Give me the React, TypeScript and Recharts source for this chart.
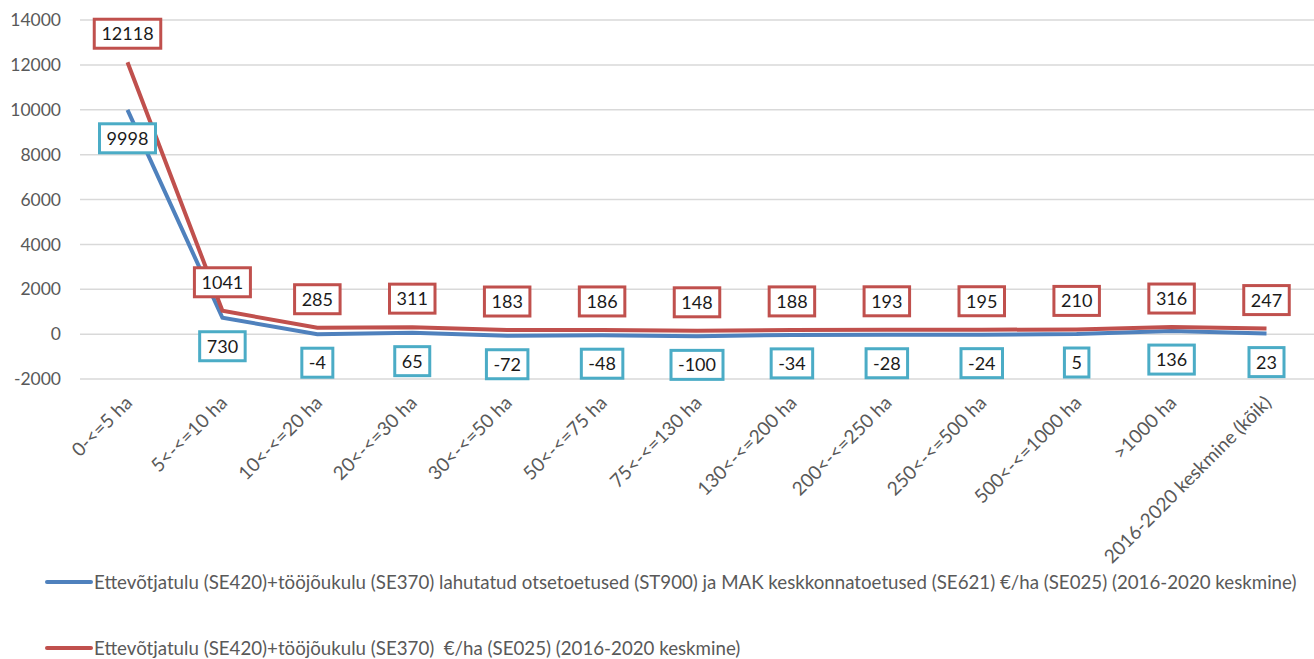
import { LineChart, Line, XAxis, YAxis, CartesianGrid, LabelList } from "recharts"

const categories = [
  "0-<=5 ha",
  "5<-<=10 ha",
  "10<-<=20 ha",
  "20<-<=30 ha",
  "30<-<=50 ha",
  "50<-<=75 ha",
  "75<-<=130 ha",
  "130<-<=200 ha",
  "200<-<=250 ha",
  "250<-<=500 ha",
  "500<-<=1000 ha",
  ">1000 ha",
  "2016-2020 keskmine (kõik)",
]
const lessSupport = [9998, 730, -4, 65, -72, -48, -100, -34, -28, -24, 5, 136, 23]
const withSupport = [12118, 1041, 285, 311, 183, 186, 148, 188, 193, 195, 210, 316, 247]
const yTicks = [-2000, 0, 2000, 4000, 6000, 8000, 10000, 12000, 14000]

const blueName =
  "Ettevõtjatulu (SE420)+tööjõukulu (SE370) lahutatud otsetoetused (ST900) ja MAK keskkonnatoetused (SE621) €/ha (SE025) (2016-2020 keskmine)"
const redName = "Ettevõtjatulu (SE420)+tööjõukulu (SE370)  €/ha (SE025) (2016-2020 keskmine)"

const data = categories.map((c, i) => ({
  name: c,
  blue: lessSupport[i],
  red: withSupport[i],
}))

const FONT = "Lato, 'Open Sans', sans-serif"
const RED = "#C0504D"
const BLUE = "#4F81BD"
const CYAN = "#4BACC6"

function textWidth(s: string) {
  let w = 0
  for (const ch of s) w += ch === "-" ? 6.5 : 10.5
  return w
}

function boxLabel(color: string, dir: number) {
  return (props: any) => {
    const { x, y, value } = props
    if (x == null || y == null) return null
    const s = String(value)
    const w = textWidth(s) + 14
    const h = 29
    const cy = y + dir * 28.5
    return (
      <g>
        <rect
          x={x - w / 2}
          y={cy - h / 2}
          width={w}
          height={h}
          fill="#fff"
          stroke={color}
          strokeWidth={3}
        />
        <text
          x={x}
          y={cy}
          dy="0.36em"
          textAnchor="middle"
          fontSize={18}
          fontFamily={FONT}
          fill="#1a1a1a"
        >
          {s}
        </text>
      </g>
    )
  }
}

function XTick(props: any) {
  const { x, y, payload } = props
  const tx = x + 6
  const ty = y + 17
  return (
    <text
      x={tx}
      y={ty}
      transform={`rotate(-45, ${tx}, ${ty})`}
      textAnchor="end"
      fontSize={19}
      fontFamily={FONT}
      fill="#595959"
    >
      {payload.value}
    </text>
  )
}

function LegendRow({ color, label }: { color: string; label: string }) {
  return (
    <div style={{ display: "flex", alignItems: "center", height: 24 }}>
      <div style={{ width: 48, height: 4, background: color, borderRadius: 2 }} />
      <span
        style={{
          fontFamily: FONT,
          fontSize: 18.7,
          color: "#595959",
          whiteSpace: "pre",
          marginLeft: 1,
        }}
      >
        {label}
      </span>
    </div>
  )
}

export default function App() {
  return (
    <div style={{ position: "absolute", left: 0, top: 0, width: 1314, height: 659, background: "#fff" }}>
      <LineChart
        width={1314}
        height={659}
        data={data}
        margin={{ top: 20, right: 0, left: 0, bottom: 80 }}
      >
        <CartesianGrid vertical={false} stroke="#D9D9D9" strokeWidth={1.5} />
        <XAxis
          dataKey="name"
          interval={0}
          axisLine={false}
          tickLine={false}
          height={200}
          padding={{ left: 47.5, right: 47.5 }}
          tick={<XTick />}
        />
        <YAxis
          domain={[-2000, 14000]}
          ticks={yTicks}
          width={80}
          axisLine={false}
          tickLine={false}
          tickSize={0}
          tickMargin={19}
          tick={{ fontSize: 17.5, fill: "#595959", fontFamily: FONT }}
        />
        <Line
          dataKey="blue"
          stroke={BLUE}
          strokeWidth={4}
          dot={false}
          isAnimationActive={false}
        />
        <Line
          dataKey="red"
          stroke={RED}
          strokeWidth={4}
          dot={false}
          isAnimationActive={false}
        />
        <Line dataKey="blue" stroke="none" dot={false} legendType="none" isAnimationActive={false}>
          <LabelList dataKey="blue" content={boxLabel(CYAN, 1)} />
        </Line>
        <Line dataKey="red" stroke="none" dot={false} legendType="none" isAnimationActive={false}>
          <LabelList dataKey="red" content={boxLabel(RED, -1)} />
        </Line>
      </LineChart>
      <div style={{ position: "absolute", left: 45, top: 570 }}>
        <LegendRow color={BLUE} label={blueName} />
      </div>
      <div style={{ position: "absolute", left: 45, top: 636 }}>
        <LegendRow color={RED} label={redName} />
      </div>
    </div>
  )
}
